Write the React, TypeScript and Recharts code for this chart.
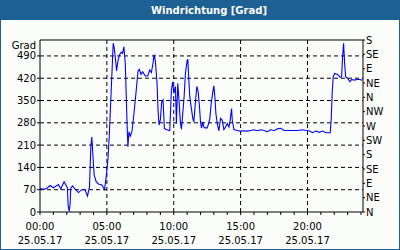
import React from 'react';
import {
  LineChart,
  Line,
  XAxis,
  YAxis,
  CartesianGrid,
  ReferenceLine
} from 'recharts';

// time of day in hours (25.05.17) and wind direction in degrees
const hours = [
  0, 0.25, 0.5, 0.75, 1.0, 1.375, 1.55, 1.8, 2.0, 2.05, 2.1, 2.18, 2.25, 2.3,
  2.43, 2.625, 2.875, 3.125, 3.375, 3.55, 3.7, 3.8, 3.875, 3.95, 4.05, 4.2,
  4.375, 4.625, 4.825, 4.95, 5.075, 5.175, 5.25, 5.325, 5.4, 5.475, 5.55,
  5.625, 5.725, 5.825, 5.95, 6.075, 6.175, 6.275, 6.375, 6.45, 6.525, 6.575,
  6.65, 6.75, 6.875, 7.0, 7.175, 7.325, 7.425, 7.55, 7.675, 7.875, 8.05, 8.2,
  8.325, 8.45, 8.525, 8.625, 8.75, 8.825, 8.9, 9.0, 9.1, 9.2, 9.3, 9.45, 9.7,
  9.825, 9.925, 10.0, 10.125, 10.2, 10.3, 10.4, 10.5, 10.575, 10.675, 10.775,
  10.875, 11.0, 11.05, 11.12, 11.2, 11.3, 11.425, 11.5, 11.625, 11.725,
  11.825, 11.925, 12.0, 12.075, 12.175, 12.25, 12.325, 12.5, 12.625, 12.7,
  12.8, 12.925, 13.0, 13.075, 13.15, 13.25, 13.375, 13.5, 13.625, 13.75,
  13.875, 14.0, 14.125, 14.2, 14.325, 14.375, 14.5, 14.75, 15.0, 15.25, 15.5,
  15.75, 16.0, 16.25, 16.5, 16.75, 17.0, 17.25, 17.5, 17.75, 18.0, 18.25,
  18.5, 18.75, 19.0, 19.25, 19.625, 19.875, 20.125, 20.375, 20.625, 20.875,
  21.125, 21.375, 21.7, 21.775, 21.85, 21.925, 22.025, 22.25, 22.45, 22.55,
  22.625, 22.7, 22.775, 22.85, 23.0, 23.175, 23.3, 23.5, 23.7, 23.9, 24.08
];

const degrees = [
  74, 71, 74, 83, 76, 86, 72, 95, 80, 75, 22, 2, 25, 75,
  82, 72, 61, 70, 70, 50, 79, 205, 235, 180, 116, 95,
  88, 85, 71, 111, 163, 236, 310, 383, 456, 530, 514,
  488, 443, 474, 494, 502, 498, 519, 467, 362, 257, 205,
  252, 238, 252, 299, 373, 441, 448, 432, 440, 427, 427, 446,
  438, 467, 494, 474, 404, 320, 273, 290, 346, 352, 262, 259, 255,
  383, 409, 373, 394, 278, 404, 346, 280, 260, 310, 362,
  436, 475, 480, 420, 362, 330, 294, 283, 346, 394,
  378, 330, 283, 263, 283, 267, 264, 264, 280, 294,
  341, 378, 396, 362, 310, 278, 255, 294, 288, 259,
  267, 278, 267, 283, 325, 288, 259, 256, 254, 255, 254,
  256, 258, 255, 258, 256, 252, 258, 255, 261, 263, 256,
  256, 256, 256, 256, 258, 256, 255, 249, 254, 250,
  254, 249, 249, 293, 377, 425, 435, 432, 423, 425,
  488, 530, 467, 425, 420, 409, 416, 414, 416, 416, 414
];

const hourTicks = Array.from({ length: 25 }, (_, i) => i);
const gradTicks = [0, 70, 140, 210, 280, 350, 420, 490];
const compassTicks = [0, 45, 90, 135, 180, 225, 270, 315, 360, 405, 450, 495, 540];
const compassLabels = ['N', 'NE', 'E', 'SE', 'S', 'SW', 'W', 'NW', 'N', 'NE', 'E', 'SE', 'S'];
const dateLabel = '25.05.17';

const rows = hours.map((h, i) => ({ h, deg: degrees[i] }));

const font = 'DejaVu Sans';

const TimeTick = (props: any) => {
  const { x, y, payload } = props;
  const h = payload.value;
  if (h % 5 !== 0) return <g />;
  const hh = String(h).padStart(2, '0') + ':00';
  return (
    <g>
      <text x={x} y={y + 13} textAnchor="middle" fontSize={10} fontFamily={font} fill="#000">
        {hh}
      </text>
      <text x={x} y={y + 27} textAnchor="middle" fontSize={10} fontFamily={font} fill="#000">
        {dateLabel}
      </text>
    </g>
  );
};

const CompassTick = (props: any) => {
  const { x, y, payload } = props;
  const label = compassLabels[compassTicks.indexOf(payload.value)];
  return (
    <text x={x} y={y} dy={3.5} textAnchor="start" fontSize={10} fontFamily={font} fill="#000">
      {label}
    </text>
  );
};

const App = () => {
  return (
    <div
      style={{
        position: 'absolute',
        left: 0,
        top: 0,
        width: 400,
        height: 250,
        boxSizing: 'border-box',
        border: '1px solid #1d6094',
        background: '#fbfdfb',
        overflow: 'hidden'
      }}
    >
      <div
        style={{
          position: 'absolute',
          left: 0,
          top: 0,
          width: 398,
          height: 19,
          background: '#1d6094',
          color: '#fff',
          fontFamily: font,
          fontWeight: 'bold',
          fontSize: 10,
          lineHeight: '19px',
          textAlign: 'center',
          paddingLeft: 18,
          boxSizing: 'border-box'
        }}
      >
        Windrichtung [Grad]
      </div>
      <div
        style={{
          position: 'absolute',
          left: 0,
          top: 39,
          width: 35,
          textAlign: 'right',
          fontFamily: font,
          fontSize: 10,
          color: '#000'
        }}
      >
        Grad
      </div>
      <div style={{ position: 'absolute', left: -1, top: -1 }}>
        <LineChart
          width={400}
          height={250}
          data={rows}
          margin={{ top: 40, right: 0, bottom: 0, left: 0 }}
        >
          <CartesianGrid
            yAxisId="left"
            stroke="#000"
            strokeDasharray="4 3"
            horizontalValues={[70, 140, 210, 280, 350, 420, 490]}
            verticalValues={[5, 10, 15, 20]}
          />
          <XAxis
            dataKey="h"
            type="number"
            domain={[0, 24.15]}
            ticks={hourTicks}
            interval={0}
            height={38}
            tick={<TimeTick />}
            tickSize={3}
            stroke="#000"
            tickLine={{ stroke: '#000' }}
            axisLine={{ stroke: '#000' }}
          />
          <YAxis
            yAxisId="left"
            orientation="left"
            width={40}
            domain={[0, 540]}
            allowDataOverflow
            ticks={gradTicks}
            interval={0}
            tickSize={3}
            tickMargin={1}
            tick={{ fontSize: 10, fontFamily: font, fill: '#000' }}
            stroke="#000"
            axisLine={{ stroke: '#000' }}
          />
          <YAxis
            yAxisId="right"
            orientation="right"
            width={37}
            domain={[0, 540]}
            allowDataOverflow
            ticks={compassTicks}
            interval={0}
            tickSize={2}
            tickMargin={1}
            tick={<CompassTick />}
            stroke="#000"
            axisLine={{ stroke: '#000' }}
          />
          <ReferenceLine yAxisId="left" y={540} stroke="#000" />
          <Line
            yAxisId="right"
            dataKey="deg"
            stroke="none"
            dot={false}
            legendType="none"
            isAnimationActive={false}
          />
          <Line
            yAxisId="left"
            dataKey="deg"
            type="linear"
            stroke="#0000ff"
            strokeWidth={1.1}
            dot={false}
            isAnimationActive={false}
          />
        </LineChart>
      </div>
    </div>
  );
};

export default App;
